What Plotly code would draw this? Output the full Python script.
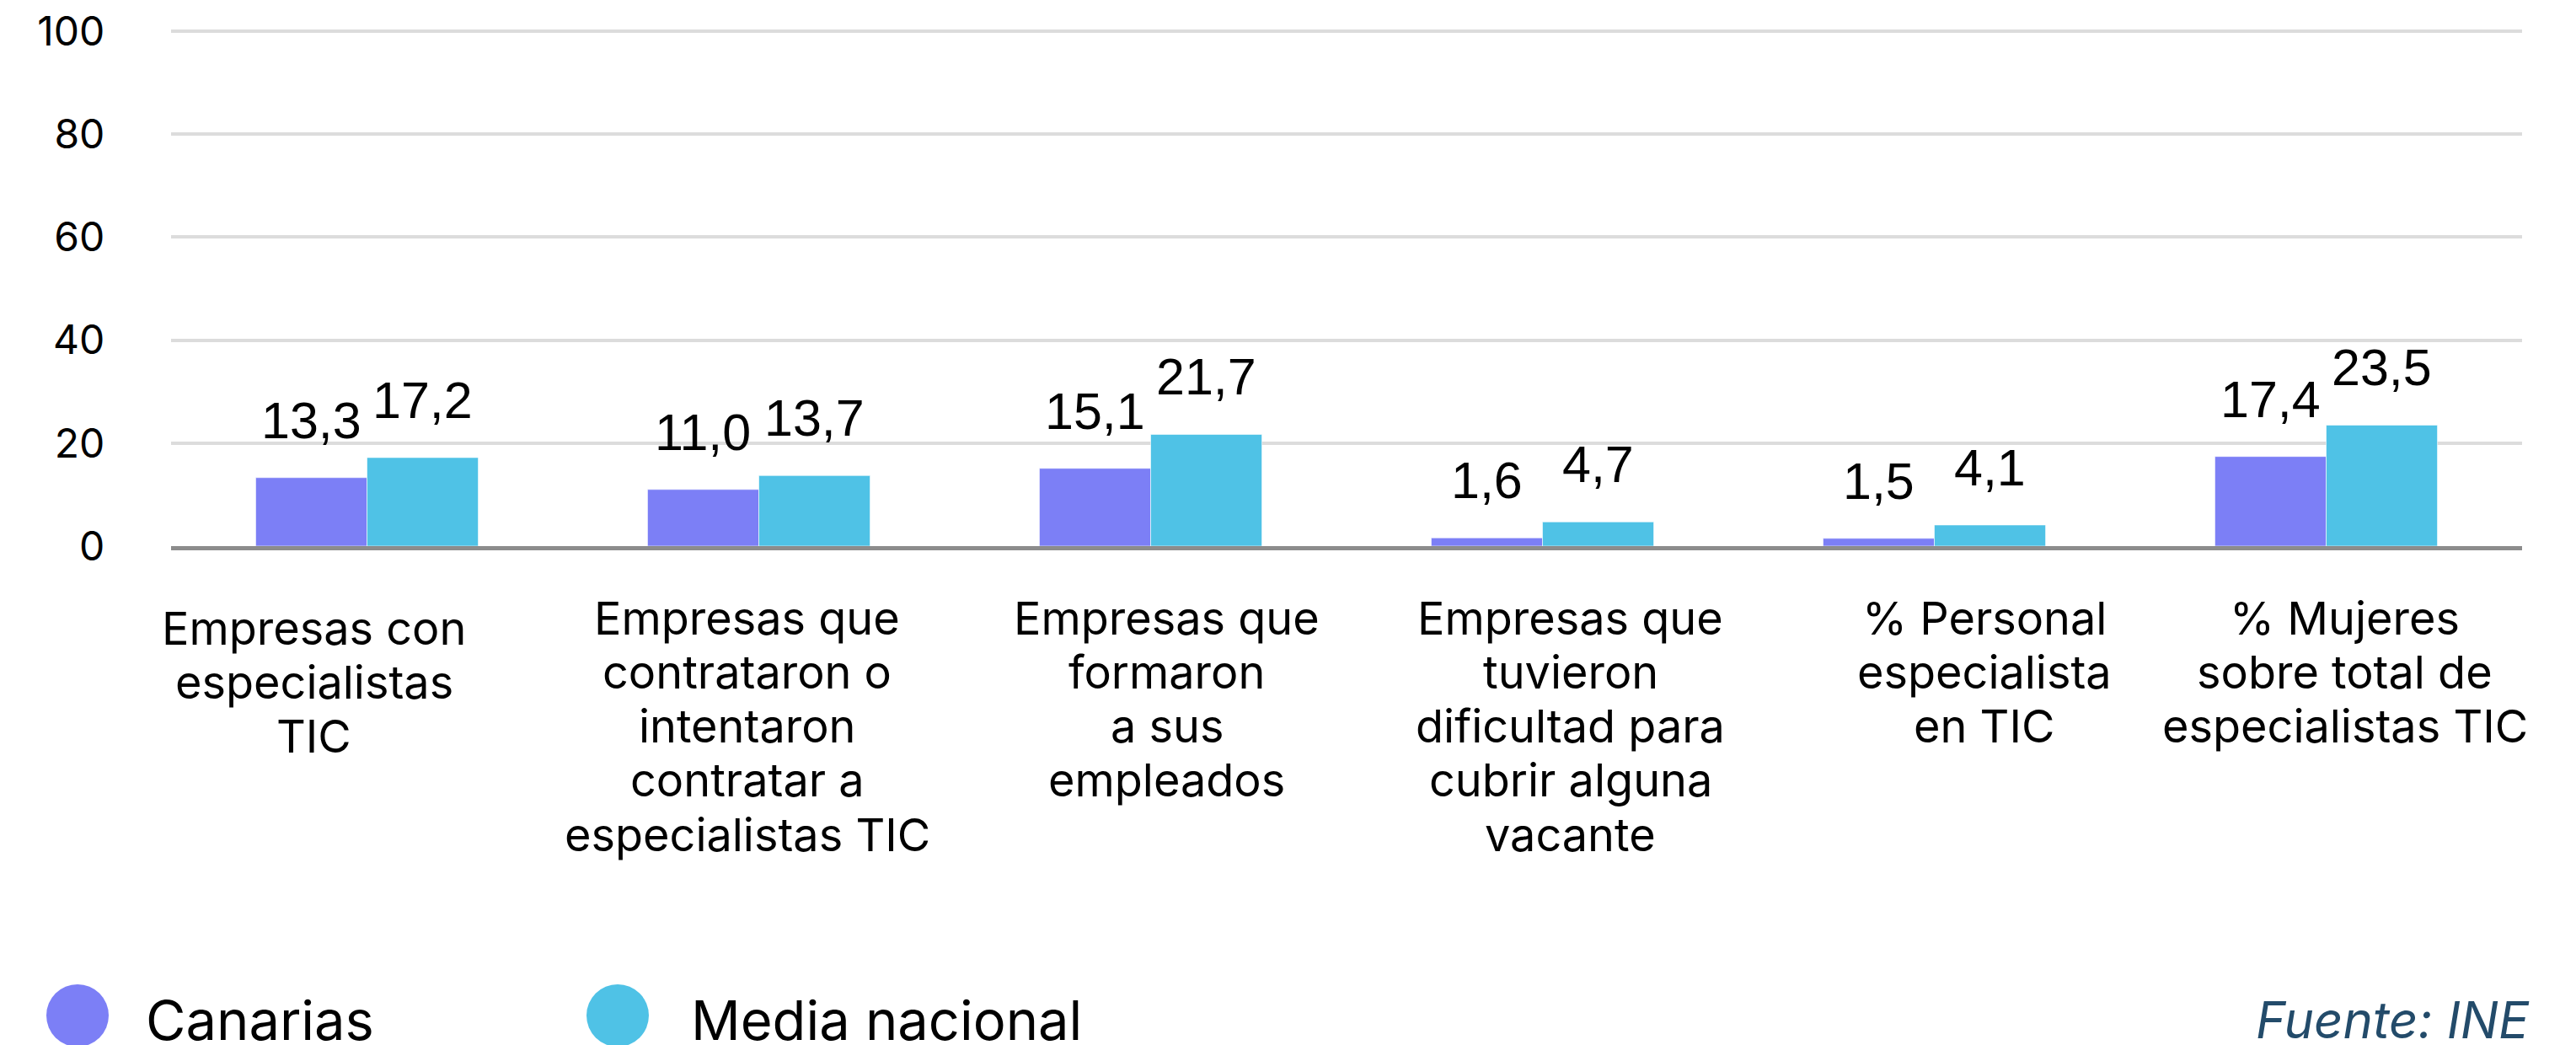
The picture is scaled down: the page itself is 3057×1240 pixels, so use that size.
import plotly.graph_objects as go

categories = [
    "Empresas con<br>especialistas<br>TIC",
    "Empresas que<br>contrataron o<br>intentaron<br>contratar a<br>especialistas TIC",
    "Empresas que<br>formaron<br>a sus<br>empleados",
    "Empresas que<br>tuvieron<br>dificultad para<br>cubrir alguna<br>vacante",
    "% Personal<br>especialista<br>en TIC",
    "% Mujeres<br>sobre total de<br>especialistas TIC",
]
canarias = [13.3, 11.0, 15.1, 1.6, 1.5, 17.4]
media_nacional = [17.2, 13.7, 21.7, 4.7, 4.1, 23.5]
series_names = ["Canarias", "Media nacional"]
y_ticks = [0, 20, 40, 60, 80, 100]
source_text = "Fuente: INE"

# style: horizontal / vertical nudges of the category labels (pixels)
label_dx = [-63, -14, 19, 33, 59, 22]
label_dy = [-12, 0, 0, 0, 0, 0]
LABEL_TOP = 85      # px below axis of the first label line centre
LABEL_LINE = 64.3   # px between label lines

COL_CAN = "#7c7ff6"
COL_MED = "#4fc2e6"
W, H = 3049, 1232
ML, MR, MT, MB = 195, 64, 23, 592
PW = W - ML - MR
PH = H - MT - MB
FONT = "Inter"


def fmt(v):
    return f"{v:.1f}".replace(".", ",")


def px_to_paper_x(px):
    return (px - ML) / PW


def px_to_paper_y(py):
    return (H - MB - py) / PH


fig = go.Figure()
fig.add_trace(go.Bar(name=series_names[0], x=categories, y=canarias,
                     marker=dict(color=COL_CAN, line=dict(color="rgba(255,255,255,0.6)", width=1)),
                     showlegend=False))
fig.add_trace(go.Bar(name=series_names[1], x=categories, y=media_nacional,
                     marker=dict(color=COL_MED, line=dict(color="rgba(255,255,255,0.6)", width=1)),
                     showlegend=False))

bargap = 0.432
cat_w = PW / len(categories)
bar_w = cat_w * (1 - bargap) / 2

annotations = []
label_font = dict(family="Liberation Sans, Arial", size=61, color="#000")
for cat, v in zip(categories, canarias):
    annotations.append(dict(x=cat, y=v, xref="x", yref="y", text=fmt(v), showarrow=False,
                            xanchor="center", yanchor="bottom", xshift=-bar_w / 2, yshift=32,
                            font=label_font))
for cat, v in zip(categories, media_nacional):
    annotations.append(dict(x=cat, y=v, xref="x", yref="y", text=fmt(v), showarrow=False,
                            xanchor="center", yanchor="bottom", xshift=bar_w / 2, yshift=32,
                            font=label_font))

# category labels (one annotation per line for exact line spacing)
for cat, dx, dy in zip(categories, label_dx, label_dy):
    for i, line in enumerate(cat.split("<br>")):
        annotations.append(dict(x=cat, y=0, xref="x", yref="y", text=line, showarrow=False,
                                xanchor="center", yanchor="middle", align="center",
                                xshift=dx, yshift=-(LABEL_TOP + i * LABEL_LINE) + dy,
                                font=dict(family=FONT, size=54, color="#000")))

# legend (manual, large circles)
shapes = []
legend_items = [(series_names[0], COL_CAN, 84, 163), (series_names[1], COL_MED, 725, 810)]
for name, col, cx, tx in legend_items:
    shapes.append(dict(type="circle", xref="paper", yref="paper",
                       xsizemode="pixel", ysizemode="pixel",
                       xanchor=px_to_paper_x(cx), yanchor=px_to_paper_y(1197),
                       x0=-37, x1=37, y0=-37, y1=37,
                       fillcolor=col, line=dict(width=0)))
    annotations.append(dict(x=px_to_paper_x(tx), y=px_to_paper_y(1202), xref="paper", yref="paper",
                            text=name, showarrow=False, xanchor="left", yanchor="middle",
                            font=dict(family=FONT, size=65, color="#000")))

annotations.append(dict(x=px_to_paper_x(2996), y=px_to_paper_y(1202), xref="paper", yref="paper",
                        text="<i>" + source_text + "</i>", showarrow=False,
                        xanchor="right", yanchor="middle",
                        font=dict(family=FONT, size=60, color="#234b6a")))

fig.update_layout(
    width=W, height=H,
    margin=dict(l=ML, r=MR, t=MT, b=MB, pad=0, autoexpand=False),
    paper_bgcolor="white", plot_bgcolor="white",
    barmode="group", bargap=bargap, bargroupgap=0,
    showlegend=False,
    annotations=annotations,
    shapes=shapes,
    font=dict(family=FONT, color="#000"),
)
fig.update_xaxes(
    range=[-0.5, len(categories) - 0.5], autorange=False,
    showgrid=False, showline=True, linecolor="#8c8c8c", linewidth=5,
    showticklabels=False, ticks="", zeroline=False, automargin=False,
)
fig.update_yaxes(
    range=[0, 101], autorange=False, tickvals=y_ticks, ticktext=[str(t) for t in y_ticks],
    showgrid=True, gridcolor="#dcdcdc", gridwidth=4,
    zeroline=False, showline=False, automargin=False,
    ticks="outside", ticklen=68, tickcolor="rgba(0,0,0,0)",
    ticklabeloverflow="allow",
    tickfont=dict(family=FONT, size=48, color="#000"),
)

fig.write_html("out.html")
